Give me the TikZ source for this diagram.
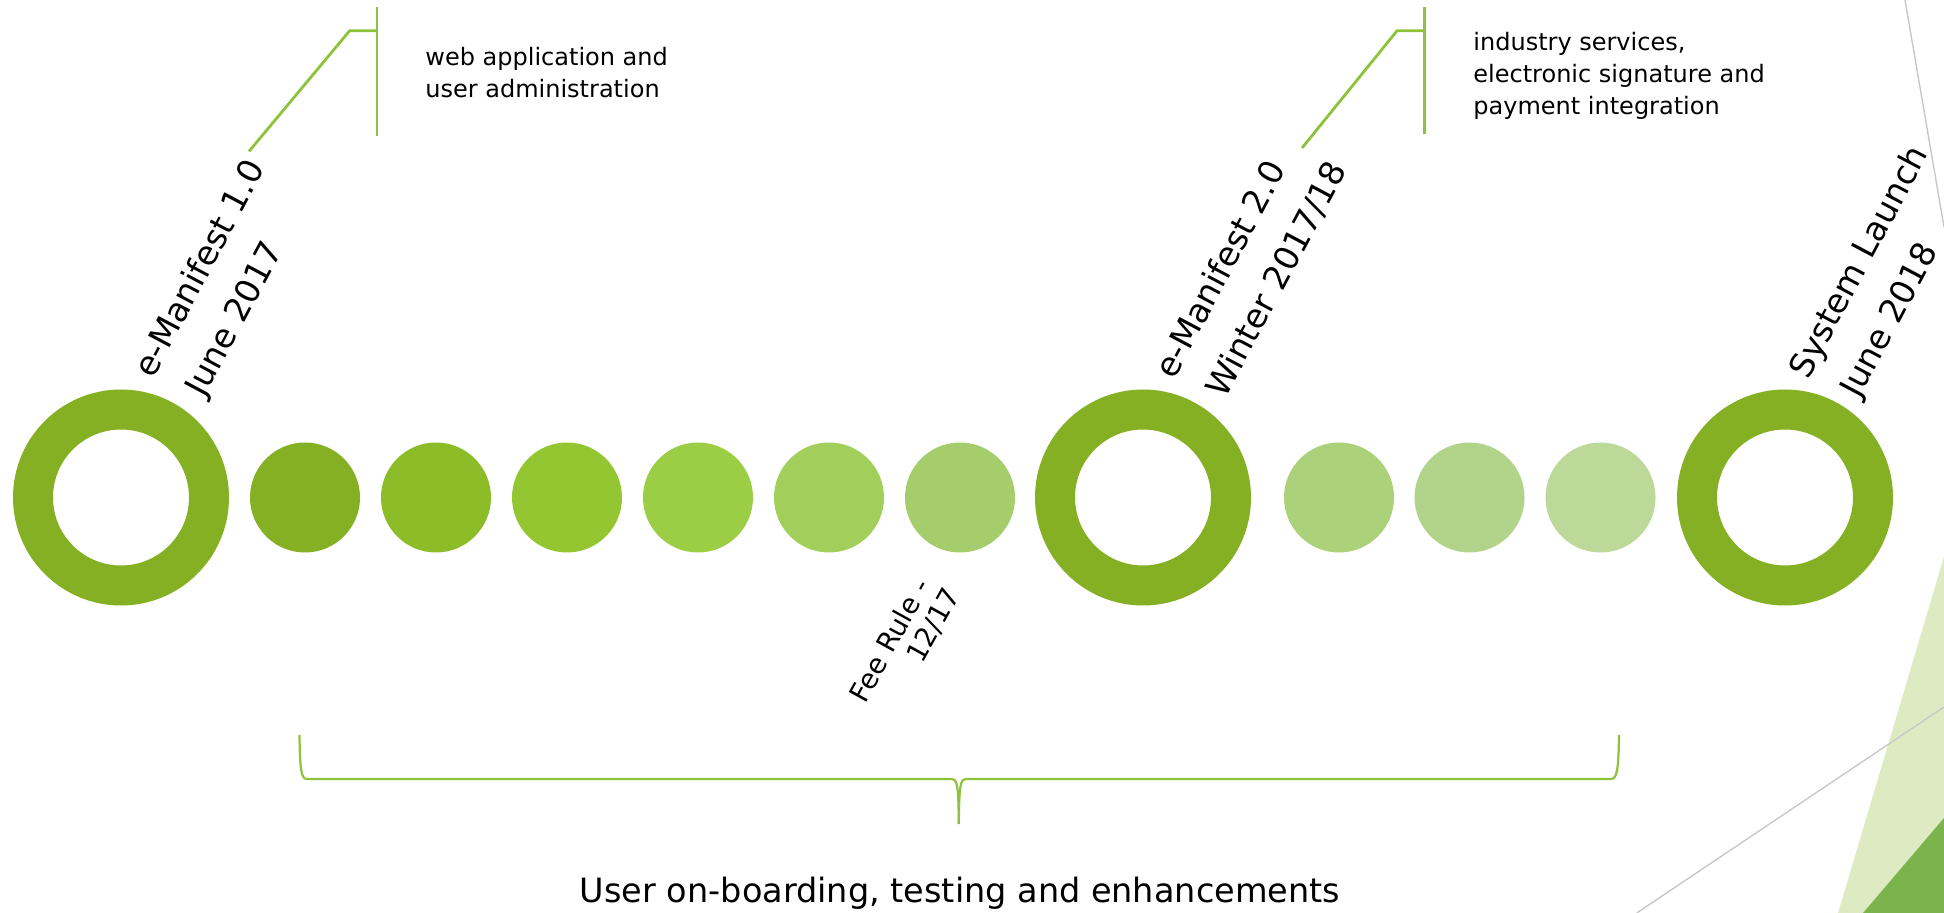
\documentclass[tikz,border=0pt]{standalone}
\usepackage{fontspec}
\setmainfont{DejaVu Sans}
\definecolor{ringgreen}{HTML}{85B024}
\definecolor{cA}{HTML}{85B024}
\definecolor{cB}{HTML}{8CBD29}
\definecolor{cC}{HTML}{94C631}
\definecolor{cD}{HTML}{9BCE44}
\definecolor{cE}{HTML}{A2CF5B}
\definecolor{cF}{HTML}{A6CD6B}
\definecolor{cG}{HTML}{ABD27A}
\definecolor{cH}{HTML}{B2D48A}
\definecolor{cI}{HTML}{BCD99A}
\definecolor{linegreen}{HTML}{8DC33A}
\definecolor{palegreen}{HTML}{DEEBC2}
\definecolor{darkgreen}{HTML}{7BB44C}
\definecolor{lightgray}{HTML}{C8C8C8}
\tikzset{
  ring/.style={circle, draw=ringgreen, line width=20pt, minimum size=88pt, inner sep=0pt},
  dot/.style={circle, minimum size=55pt, inner sep=0pt},
  lab/.style={rotate=62, anchor=base west, inner sep=0pt, font=\fontsize{16.75}{20}\selectfont},
  smalllab/.style={rotate=61, anchor=base west, inner sep=0pt, font=\fontsize{13.75}{16}\selectfont},
  note/.style={anchor=north west, inner sep=0pt, align=left, font=\fontsize{12}{16}\selectfont},
  callout/.style={draw=linegreen, line width=1.4pt},
  bracepath/.style={draw=linegreen, line width=1.1pt},
  deco/.style={draw=lightgray, line width=0.7pt}
}
\begin{document}
\begin{tikzpicture}[x=0.5pt,y=-0.5pt]
\useasboundingbox (0,0) rectangle (1944,913);
% background decoration
\fill[palegreen] (1838,913) -- (1944,556.7) -- (1944,913) -- cycle;
\draw[deco] (1636.7,913) -- (1944,707);
\fill[darkgreen] (1863,913) -- (1944,818) -- (1944,913) -- cycle;
\draw[deco] (1905,0) -- (1944,227);
% timeline
\node[ring] (ring1) at (121,497.5) {};
\node[dot, fill=cA] (c1) at (305,497.5) {};
\node[dot, fill=cB] (c2) at (436,497.5) {};
\node[dot, fill=cC] (c3) at (567,497.5) {};
\node[dot, fill=cD] (c4) at (698,497.5) {};
\node[dot, fill=cE] (c5) at (829,497.5) {};
\node[dot, fill=cF] (c6) at (960,497.5) {};
\node[ring] (ring2) at (1143,497.5) {};
\node[dot, fill=cG] (c7) at (1339,497.5) {};
\node[dot, fill=cH] (c8) at (1469.5,497.5) {};
\node[dot, fill=cI] (c9) at (1600.5,497.5) {};
\node[ring] (ring3) at (1785,497.5) {};
% rotated labels
\node[lab] (la1) at (153,380) {e-Manifest 1.0};
\node[lab] (la2) at (204,399) {June 2017};
\node[lab] (lb1) at (1174,381) {e-Manifest 2.0};
\node[lab] (lb2) at (1225,400) {Winter 2017/18};
\node[lab] (lc1) at (1808,381) {System Launch};
\node[lab] (lc2) at (1859,400) {June 2018};
\node[smalllab] (lf1) at (865,705) {Fee Rule -};
\node[smalllab] (lf2) at (922,665) {12/17};
% callouts
\coordinate (p1) at (249,151.4);
\coordinate (q1) at (349.6,30.8);
\coordinate (r1) at (377,30.8);
\coordinate (b1t) at (377,7);
\coordinate (b1b) at (377,136);
\draw[callout] (p1) -- (q1) -- (r1);
\draw[callout] (b1t) -- (b1b);
\node[note] (n1) at (425,46.5) {web application and\\user administration};
\coordinate (p2) at (1302,148);
\coordinate (q2) at (1397,30.8);
\coordinate (r2) at (1424.4,30.8);
\coordinate (b2t) at (1424.4,7);
\coordinate (b2b) at (1424.4,134);
\draw[callout] (p2) -- (q2) -- (r2);
\draw[callout] (b2t) -- (b2b);
\node[note] (n2) at (1473,32) {industry services,\\electronic signature and\\payment integration};
% brace
\coordinate (brL) at (299.5,735);
\coordinate (brR) at (1619,735);
\coordinate (brM) at (958.8,824);
\draw[bracepath] (brL) .. controls (300,770) and (301,779) .. (307,779) -- (952,779) .. controls (957,779) and (958.5,785) .. (brM);
\draw[bracepath] (brM) .. controls (959.1,785) and (960.6,779) .. (965.6,779) -- (1611,779) .. controls (1617,779) and (1618.5,770) .. (brR);
\node[anchor=base, inner sep=0pt, font=\fontsize{16.75}{20}\selectfont] (bt) at (960,902.7) {User on-boarding, testing and enhancements};
\end{tikzpicture}
\end{document}
